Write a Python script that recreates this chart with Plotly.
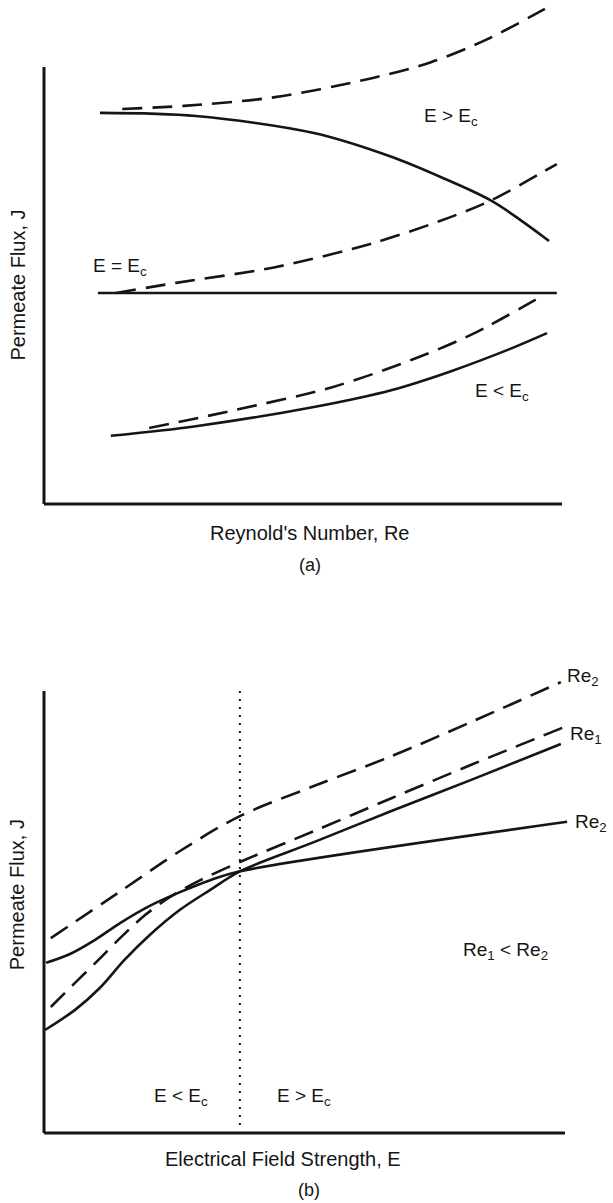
import plotly.graph_objects as go

# full page size; the body margin is removed in post_script so the plot fills the window
W, H = 613, 1203

# ---- panel (a): flux vs Reynold's number (arbitrary units, 0-10) ----
a_up_dash_x = [1.51, 2.70, 4.46, 6.35, 7.47, 8.53, 9.67]
a_up_dash_y = [9.04, 9.11, 9.31, 9.75, 10.11, 10.62, 11.33]
a_up_solid_x = [1.08, 2.93, 5.21, 6.72, 7.70, 8.65, 9.75]
a_up_solid_y = [8.95, 8.88, 8.49, 7.94, 7.46, 6.93, 6.02]
a_mid_dash_x = [1.39, 2.55, 4.46, 6.35, 7.86, 8.65, 9.90]
a_mid_dash_y = [4.83, 5.06, 5.42, 5.97, 6.57, 6.96, 7.78]
a_mid_solid_x = [1.04, 9.90]
a_mid_solid_y = [4.83, 4.83]
a_low_dash_x = [2.03, 3.69, 5.58, 7.10, 8.24, 9.59]
a_low_dash_y = [1.74, 2.15, 2.68, 3.30, 3.87, 4.74]
a_low_solid_x = [1.29, 2.93, 5.21, 6.72, 7.86, 9.00, 9.71]
a_low_solid_y = [1.56, 1.78, 2.22, 2.61, 3.04, 3.55, 3.91]

# ---- panel (b): flux vs electrical field strength ----
b_re2_dash_x = [0.13, 1.42, 2.61, 3.76, 5.18, 6.68, 8.20, 9.92]
b_re2_dash_y = [4.41, 5.43, 6.38, 7.17, 7.85, 8.53, 9.30, 10.20]
b_re1_dash_x = [0.13, 0.59, 1.04, 1.46, 1.94, 2.42, 3.00, 3.76, 5.18, 6.68, 8.20, 10.0]
b_re1_dash_y = [2.85, 3.39, 3.91, 4.41, 4.93, 5.34, 5.72, 6.13, 6.83, 7.58, 8.33, 9.19]
b_re1_solid_x = [0.02, 0.59, 1.07, 1.54, 2.03, 2.61, 3.19, 3.76, 5.18, 6.68, 8.20, 9.92]
b_re1_solid_y = [2.33, 2.78, 3.28, 3.91, 4.48, 5.05, 5.50, 5.92, 6.58, 7.29, 7.99, 8.80]
b_re2_solid_x = [0.04, 0.50, 0.98, 1.46, 2.03, 2.61, 3.19, 3.76, 10.04]
b_re2_solid_y = [3.85, 4.05, 4.37, 4.75, 5.14, 5.45, 5.72, 5.92, 7.04]
b_critical_x = [3.76, 3.76]
b_critical_y = [0.18, 10.02]

FONT = "Liberation Sans, Arial, sans-serif"
NARROW = "Liberation Sans Narrow, Liberation Sans, sans-serif"
INK = "#151515"


def line(x, y, dash, xa, ya, width=2.6, shape="spline"):
    return go.Scatter(x=x, y=y, mode="lines", xaxis=xa, yaxis=ya,
                      line=dict(color=INK, width=width, dash=dash, shape=shape, smoothing=0.9),
                      hoverinfo="skip", showlegend=False)


fig = go.Figure()
D = "20px,10px"
for xs, ys, d in [(a_up_dash_x, a_up_dash_y, D), (a_up_solid_x, a_up_solid_y, "solid"),
                  (a_mid_dash_x, a_mid_dash_y, D), (a_mid_solid_x, a_mid_solid_y, "solid"),
                  (a_low_dash_x, a_low_dash_y, D), (a_low_solid_x, a_low_solid_y, "solid")]:
    fig.add_trace(line(xs, ys, d, "x", "y"))

for xs, ys, d in [(b_re2_dash_x, b_re2_dash_y, D), (b_re1_dash_x, b_re1_dash_y, D),
                  (b_re1_solid_x, b_re1_solid_y, "solid"), (b_re2_solid_x, b_re2_solid_y, "solid")]:
    fig.add_trace(line(xs, ys, d, "x2", "y2"))
fig.add_trace(line(b_critical_x, b_critical_y, "2px,6px", "x2", "y2", width=2, shape="linear"))

# axis frames (L-shaped)
for xr, yr in [("x", "y"), ("x2", "y2")]:
    fig.add_shape(type="line", xref=xr, yref=yr, x0=0, y0=0, x1=0, y1=10,
                  line=dict(color=INK, width=3))
    fig.add_shape(type="line", xref=xr, yref=yr, x0=0, y0=0, x1=10, y1=0,
                  line=dict(color=INK, width=3))


def note(text, x, y, xr, yr, size=19, family=FONT, angle=0):
    fig.add_annotation(text=text, x=x, y=y, xref=xr, yref=yr, showarrow=False,
                       font=dict(family=family, size=size, color=INK), textangle=angle)


note("E &gt; E<sub>c</sub>", 7.86, 8.86, "x", "y")
note("E = E<sub>c</sub>", 1.47, 5.42, "x", "y")
note("E &lt; E<sub>c</sub>", 8.84, 2.56, "x", "y")
note("Reynold's Number, Re", 5.12, -0.66, "x", "y", size=20)
note("(a)", 5.14, -1.40, "x", "y", size=18, family=NARROW)
note("Permeate Flux, J", -0.52, 5.0, "x", "y", size=20, angle=-90)

note("Re<sub>2</sub>", 10.35, 10.32, "x2", "y2")
note("Re<sub>1</sub>", 10.40, 9.0, "x2", "y2")
note("Re<sub>2</sub>", 10.50, 7.01, "x2", "y2")
note("Re<sub>1</sub> &lt; Re<sub>2</sub>", 8.85, 4.12, "x2", "y2")
note("E &lt; E<sub>c</sub>", 2.63, 0.81, "x2", "y2")
note("E &gt; E<sub>c</sub>", 4.99, 0.81, "x2", "y2")
note("Electrical Field Strength, E", 4.59, -0.59, "x2", "y2", size=20)
note("(b)", 5.09, -1.29, "x2", "y2", size=18, family=NARROW)
note("Permeate Flux, J", -0.52, 5.4, "x2", "y2", size=20, angle=-90)


def xaxis(x0px, sx, **kw):
    # page pixels -> data units: (px - x0px) / sx
    return dict(visible=False, range=[(0 - x0px) / sx, (W - x0px) / sx],
                domain=[0, 1], fixedrange=True, **kw)


def yaxis(y0px, sy, top_px, bot_px, **kw):
    return dict(visible=False, range=[(y0px - bot_px) / sy, (y0px - top_px) / sy],
                domain=[1 - bot_px / H, 1 - top_px / H], fixedrange=True, **kw)


fig.update_layout(width=W, height=H, margin=dict(l=0, r=0, t=0, b=0),
                  paper_bgcolor="white", plot_bgcolor="white",
                  xaxis=xaxis(44, 51.8), yaxis=yaxis(504, 43.7, 0, 595),
                  xaxis2=xaxis(44, 52.1, anchor="y2"),
                  yaxis2=yaxis(1133, 44.2, 605, H, anchor="x2"))

fig.write_html("out.html", config={"displayModeBar": False},
               post_script="document.body.style.margin='0px';")
